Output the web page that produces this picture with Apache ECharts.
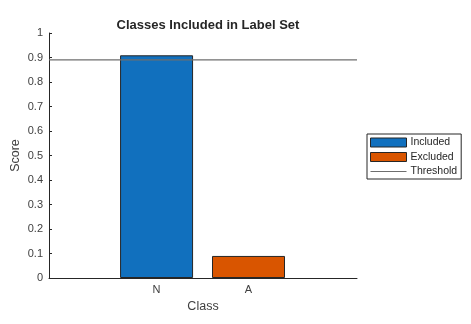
<!DOCTYPE html>
<html>
<head>
<meta charset="utf-8">
<script src="https://cdn.jsdelivr.net/npm/echarts@6/dist/echarts.min.js"></script>
<style>html,body{margin:0;padding:0;background:#fff;}#c{width:471px;height:324px;}</style>
</head>
<body>
<div id="c"></div>
<script>
var categories = ['N', 'A'];
var categoryPos = [1, 2];
var included = [0.909, null];
var excluded = [null, 0.09];
var threshold = 0.89;
var yTicks = [0, 0.1, 0.2, 0.3, 0.4, 0.5, 0.6, 0.7, 0.8, 0.9, 1];

var xMin = -0.17, xMax = 3.18;
var font = 'Liberation Sans, Arial, sans-serif';
var chart = echarts.init(document.getElementById('c'), null, {renderer: 'canvas'});

function pairs(vals) {
  var out = [];
  for (var i = 0; i < vals.length; i++) if (vals[i] !== null) out.push([categoryPos[i], vals[i]]);
  return out;
}

chart.setOption({
  animation: false,
  backgroundColor: '#fff',
  title: {
    text: 'Classes Included in Label Set',
    left: 203, top: 14, textAlign: 'center',
    textStyle: {fontFamily: font, fontSize: 13, fontWeight: 'bold', color: '#262626'}
  },
  grid: {left: 49, right: 114, top: 33, bottom: 46, containLabel: false, outerBoundsMode: 'none'},
  legend: {
    orient: 'vertical', left: 367, top: 134,
    itemWidth: 36, itemHeight: 9, itemGap: 3.5,
    padding: [3, 4, 2, 3],
    borderColor: '#262626', borderWidth: 1, backgroundColor: '#fff',
    textStyle: {fontFamily: font, fontSize: 10.5, color: '#262626', padding: [0, 0, 0, -1]},
    data: [
      {name: 'Included', icon: 'rect', itemStyle: {color: '#1170BE', borderColor: '#262626', borderWidth: 1}},
      {name: 'Excluded', icon: 'rect', itemStyle: {color: '#D95500', borderColor: '#262626', borderWidth: 1}},
      {name: 'Threshold', icon: 'path://M0,0 L40,0 L40,1 L0,1 Z', itemStyle: {color: '#6e6e6e', borderWidth: 0}}
    ]
  },
  xAxis: {
    type: 'value', min: xMin, max: xMax,
    name: 'Class', nameLocation: 'middle', nameGap: 20,
    nameTextStyle: {fontFamily: font, fontSize: 12.5, color: '#404040'},
    axisLine: {show: true, onZero: false, lineStyle: {color: '#262626', width: 1}},
    axisTick: {show: true, inside: true, length: 3, customValues: categoryPos, lineStyle: {color: '#262626'}},
    axisLabel: {
      customValues: categoryPos, margin: 6,
      fontFamily: font, fontSize: 11, color: '#404040',
      formatter: function (v) { var i = categoryPos.indexOf(v); return i >= 0 ? categories[i] : ''; }
    },
    splitLine: {show: false}
  },
  yAxis: {
    type: 'value', min: 0, max: 1, interval: 0.1,
    name: 'Score', nameLocation: 'middle', nameGap: 27, nameMoveOverlap: false,
    nameTextStyle: {fontFamily: font, fontSize: 12.5, color: '#404040'},
    axisLine: {show: true, onZero: false, lineStyle: {color: '#262626', width: 1}},
    axisTick: {show: true, inside: true, length: 3, lineStyle: {color: '#262626'}},
    axisLabel: {
      margin: 6, fontFamily: font, fontSize: 11, color: '#404040',
      formatter: function (v) { return String(Math.round(v * 10) / 10); }
    },
    splitLine: {show: false}
  },
  series: [
    {
      name: 'Included', type: 'bar', data: pairs(included),
      barWidth: 73, barGap: '-100%',
      itemStyle: {color: '#1170BE', borderColor: '#262626', borderWidth: 1}
    },
    {
      name: 'Excluded', type: 'bar', data: pairs(excluded),
      barWidth: 73, barGap: '-100%',
      itemStyle: {color: '#D95500', borderColor: '#262626', borderWidth: 1}
    },
    {
      name: 'Threshold', type: 'line', symbol: 'none',
      data: [[xMin, threshold], [xMax, threshold]],
      lineStyle: {color: '#6e6e6e', width: 1.3},
      itemStyle: {color: '#6e6e6e'}
    }
  ]
});
</script>
</body>
</html>
